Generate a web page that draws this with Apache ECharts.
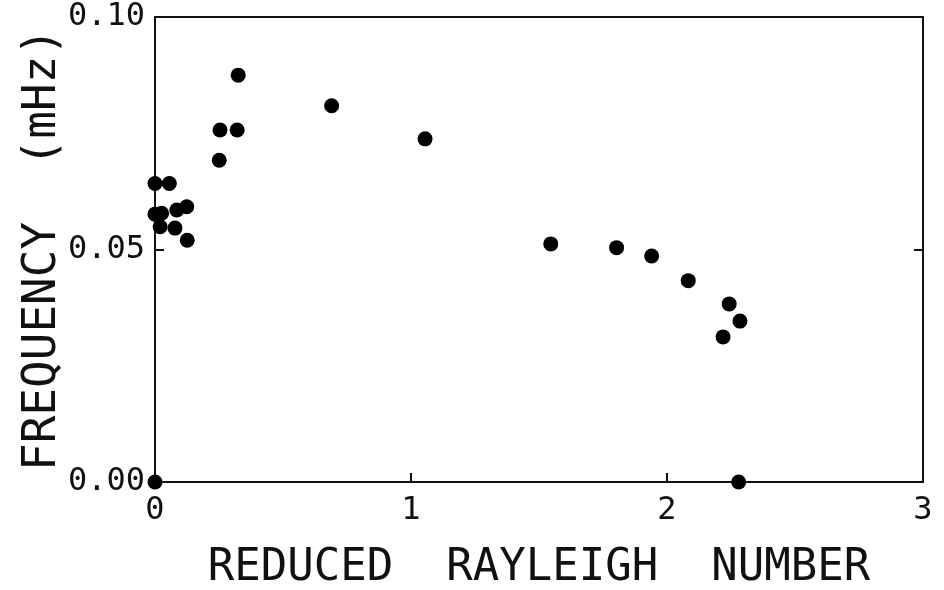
<!DOCTYPE html>
<html>
<head>
<meta charset="utf-8">
<script src="https://cdn.jsdelivr.net/npm/echarts@6/dist/echarts.min.js"></script>
<style>html,body{margin:0;padding:0;background:#fff}#c{width:944px;height:590px}</style>
</head>
<body>
<div id="c"></div>
<script>
var reducedRayleigh = [0.00, 0.056, 0.00, 0.026, 0.085, 0.124, 0.02, 0.078, 0.126, 0.251, 0.254, 0.321, 0.325, 0.69, 1.055, 1.546, 1.803, 1.94, 2.083, 2.243, 2.285, 2.219, 0.00, 2.28];
var frequency =      [0.0642, 0.0642, 0.0576, 0.0578, 0.0585, 0.0592, 0.0549, 0.0546, 0.052, 0.0692, 0.0757, 0.0757, 0.0875, 0.0809, 0.0738, 0.0512, 0.0504, 0.0486, 0.0433, 0.0383, 0.0346, 0.0312, 0.0, 0.0];
var xTicks = [0, 1, 2, 3];
var yTicks = [0.00, 0.05, 0.10];

var pts = reducedRayleigh.map(function (x, i) { return [x, frequency[i]]; });
var FONT = 'DejaVu Sans Mono';
var axisCol = '#111';

var chart = echarts.init(document.getElementById('c'), null, {renderer: 'canvas'});
chart.setOption({
  backgroundColor: '#fff',
  animation: false,
  grid: {left: 155, right: 21, top: 17, bottom: 108, containLabel: false, outerBoundsMode: 'none'},
  xAxis: [{
    type: 'value', min: xTicks[0], max: xTicks[xTicks.length - 1], interval: 1,
    position: 'bottom',
    name: 'REDUCED  RAYLEIGH  NUMBER', nameLocation: 'middle', nameGap: 65,
    nameMoveOverlap: false,
    nameTextStyle: {fontFamily: FONT, fontSize: 44, color: axisCol},
    axisLine: {onZero: false, lineStyle: {color: axisCol, width: 2}},
    axisTick: {inside: true, length: 9, lineStyle: {color: axisCol, width: 2}},
    axisLabel: {fontFamily: FONT, fontSize: 32, color: axisCol, margin: 13},
    splitLine: {show: false}
  }, {
    type: 'value', min: 0, max: 3, interval: 1, position: 'top',
    axisLine: {show: true, onZero: false, lineStyle: {color: axisCol, width: 2}},
    axisTick: {show: false}, axisLabel: {show: false}, splitLine: {show: false}
  }],
  yAxis: [{
    type: 'value', min: yTicks[0], max: yTicks[yTicks.length - 1], interval: 0.05,
    position: 'left',
    name: 'FREQUENCY  (mHz)', nameLocation: 'middle', nameGap: 89, nameRotate: 90,
    nameMoveOverlap: false,
    nameTextStyle: {fontFamily: FONT, fontSize: 46, color: axisCol},
    axisLine: {onZero: false, lineStyle: {color: axisCol, width: 2}},
    axisTick: {inside: true, length: 9, lineStyle: {color: axisCol, width: 2}},
    axisLabel: {fontFamily: FONT, fontSize: 32, color: axisCol, margin: 10,
      formatter: function (v) { return v.toFixed(2); }},
    splitLine: {show: false}
  }, {
    type: 'value', min: 0, max: 0.1, interval: 0.05, position: 'right',
    axisLine: {show: true, onZero: false, lineStyle: {color: axisCol, width: 2}},
    axisTick: {inside: true, length: 9, lineStyle: {color: axisCol, width: 2}},
    axisLabel: {show: false}, splitLine: {show: false}
  }],
  series: [{
    type: 'scatter', xAxisIndex: 0, yAxisIndex: 0,
    data: pts, symbol: 'circle', symbolSize: 15, clip: false,
    itemStyle: {color: '#000', opacity: 1}
  }]
});
</script>
</body>
</html>
